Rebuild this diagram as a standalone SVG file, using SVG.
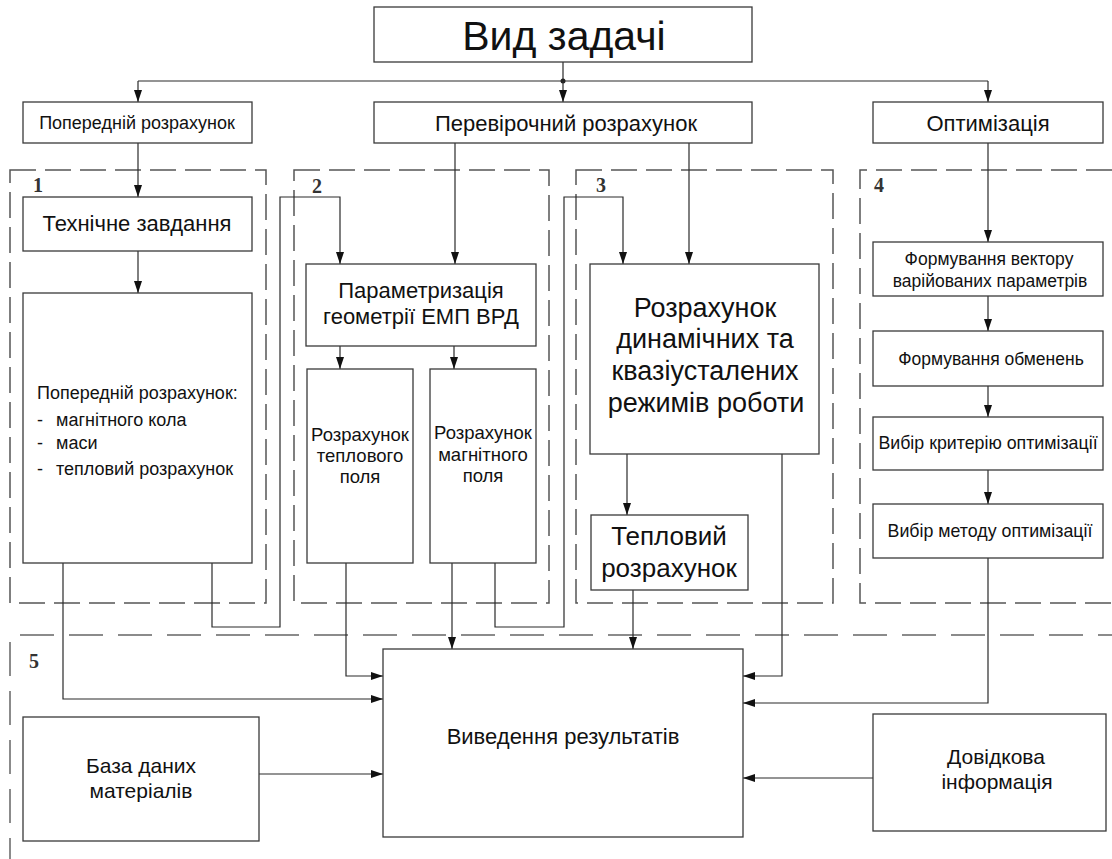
<svg xmlns="http://www.w3.org/2000/svg" width="1112" height="859" viewBox="0 0 1112 859">
<style>
.bg{fill:#fff}
.box{fill:#fff;stroke:#3a3a3a;stroke-width:1.3}
.sec{fill:none;stroke:#555;stroke-width:1.5;stroke-dasharray:26 9}
.sec5{fill:none;stroke:#666;stroke-width:1.5;stroke-dasharray:34 15}
.c{fill:none;stroke:#2a2a2a;stroke-width:1.2}
.ca{fill:none;stroke:#2a2a2a;stroke-width:1.2;marker-end:url(#ah)}
text{font-family:"Liberation Sans",Arial,sans-serif;fill:#111}
.m{text-anchor:middle}
.num{font-family:"Liberation Serif","Times New Roman",serif;font-weight:bold;font-size:20px;fill:#333;text-anchor:middle}
</style>
<defs>
<marker id="ah" markerUnits="userSpaceOnUse" markerWidth="12" markerHeight="8" refX="12" refY="4" orient="auto">
<path d="M0,0 L12,4 L0,8 Z" fill="#111"/>
</marker>
</defs>
<rect class="bg" x="0" y="0" width="1112" height="859"/>

<g id="sections">
<rect class="sec" x="10" y="170" width="256" height="433"/>
<rect class="sec" x="294" y="170" width="255" height="433"/>
<rect class="sec" x="576" y="170" width="257" height="433"/>
<path class="sec" d="M1112,170 H860 V603 H1112"/>
<path class="sec5" d="M20,635 H1112"/>
<path class="sec5" d="M10,642 V859"/>
<text class="num" x="38" y="192">1</text>
<text class="num" x="317" y="193">2</text>
<text class="num" x="601" y="192">3</text>
<text class="num" x="879" y="192">4</text>
<text class="num" x="34" y="668">5</text>
</g>

<g id="connectors">
<path class="c" d="M563,62 V81 M138,81 H988"/>
<circle cx="563" cy="81" r="2.5" fill="#222"/>
<path class="ca" d="M138,81 V102"/>
<path class="ca" d="M563,81 V102"/>
<path class="ca" d="M988,81 V102"/>
<path class="ca" d="M138,143 V197"/>
<path class="ca" d="M138,251 V293"/>
<path class="ca" d="M63,563 V699 H383"/>
<path class="ca" d="M212,563 V627 H280 V197 H340 V264"/>
<path class="ca" d="M455,143 V264"/>
<path class="ca" d="M340,346 V369"/>
<path class="ca" d="M454,346 V369"/>
<path class="ca" d="M346,563 V676 H383"/>
<path class="ca" d="M452,563 V649"/>
<path class="ca" d="M495,563 V627 H564 V197 H623 V264"/>
<path class="ca" d="M689,143 V264"/>
<path class="ca" d="M627,454 V515"/>
<path class="ca" d="M633,590 V649"/>
<path class="ca" d="M782,454 V676 H743"/>
<path class="ca" d="M988,143 V242"/>
<path class="ca" d="M988,296 V331"/>
<path class="ca" d="M988,386 V417"/>
<path class="ca" d="M988,470 V504"/>
<path class="ca" d="M988,558 V703 H743"/>
<path class="ca" d="M259,774 H383"/>
<path class="ca" d="M873,778 H743"/>
</g>

<g id="n-vid">
<rect class="box" x="374" y="7" width="378" height="55"/>
<text class="m" x="564" y="50" font-size="41">Вид задачі</text>
</g>
<g id="n-poperednii">
<rect class="box" x="23" y="102" width="229" height="41"/>
<text class="m" x="137" y="129" font-size="18">Попередній розрахунок</text>
</g>
<g id="n-perevirochnyi">
<rect class="box" x="374" y="102" width="378" height="41"/>
<text class="m" x="566" y="131" font-size="22">Перевірочний розрахунок</text>
</g>
<g id="n-optymizatsiia">
<rect class="box" x="873" y="102" width="230" height="41"/>
<text class="m" x="988" y="131" font-size="22">Оптимізація</text>
</g>

<g id="n-tz">
<rect class="box" x="23" y="197" width="229" height="54"/>
<text class="m" x="137" y="231" font-size="22">Технічне завдання</text>
</g>
<g id="n-poperednii-rozr">
<rect class="box" x="23" y="293" width="229" height="270"/>
<text x="37" y="399" font-size="18">Попередній розрахунок:</text>
<text x="37" y="426" font-size="18">-</text><text x="56" y="426" font-size="18">магнітного кола</text>
<text x="37" y="449" font-size="18">-</text><text x="56" y="449" font-size="18">маси</text>
<text x="37" y="475" font-size="18">-</text><text x="56" y="475" font-size="18">тепловий розрахунок</text>
</g>

<g id="n-param">
<rect class="box" x="306" y="264" width="230" height="82"/>
<text class="m" x="421" y="298" font-size="22">Параметризація</text>
<text class="m" x="421" y="324" font-size="22">геометрії ЕМП ВРД</text>
</g>
<g id="n-teplove-pole">
<rect class="box" x="307" y="369" width="106" height="194"/>
<text class="m" x="360" y="441" font-size="18.5">Розрахунок</text>
<text class="m" x="360" y="462" font-size="18.5">теплового</text>
<text class="m" x="360" y="483" font-size="18.5">поля</text>
</g>
<g id="n-magnitne-pole">
<rect class="box" x="430" y="369" width="106" height="194"/>
<text class="m" x="483" y="439" font-size="18.5">Розрахунок</text>
<text class="m" x="483" y="461" font-size="18.5">магнітного</text>
<text class="m" x="483" y="482" font-size="18.5">поля</text>
</g>

<g id="n-dynamic">
<rect class="box" x="590" y="264" width="229" height="190"/>
<text class="m" x="705" y="317" font-size="27">Розрахунок</text>
<text class="m" x="705" y="348" font-size="27">динамічних та</text>
<text class="m" x="705" y="380" font-size="27">квазіусталених</text>
<text class="m" x="706" y="412" font-size="27">режимів роботи</text>
</g>
<g id="n-teplovyi">
<rect class="box" x="591" y="515" width="157" height="75"/>
<text class="m" x="669" y="545" font-size="26">Тепловий</text>
<text class="m" x="669" y="577" font-size="26">розрахунок</text>
</g>

<g id="n-vector">
<rect class="box" x="873" y="242" width="230" height="54"/>
<text class="m" x="989" y="265" font-size="17.5">Формування вектору</text>
<text class="m" x="990" y="287" font-size="17.5">варійованих параметрів</text>
</g>
<g id="n-obmezhen">
<rect class="box" x="873" y="331" width="230" height="55"/>
<text class="m" x="991" y="365" font-size="17.5">Формування обменень</text>
</g>
<g id="n-kryterii">
<rect class="box" x="873" y="417" width="230" height="53"/>
<text class="m" x="988" y="449" font-size="17.8">Вибір критерію оптимізації</text>
</g>
<g id="n-metod">
<rect class="box" x="873" y="504" width="230" height="54"/>
<text class="m" x="990" y="537" font-size="17.8">Вибір методу оптимізації</text>
</g>

<g id="n-vyvedennia">
<rect class="box" x="383" y="649" width="360" height="188"/>
<text class="m" x="563" y="744" font-size="22">Виведення результатів</text>
</g>
<g id="n-baza">
<rect class="box" x="23" y="717" width="236" height="124"/>
<text class="m" x="141" y="773" font-size="21">База даних</text>
<text class="m" x="141" y="798" font-size="21">матеріалів</text>
</g>
<g id="n-dovidkova">
<rect class="box" x="873" y="714" width="233" height="117"/>
<text class="m" x="996" y="764" font-size="21">Довідкова</text>
<text class="m" x="997" y="789" font-size="21">інформація</text>
</g>
</svg>
